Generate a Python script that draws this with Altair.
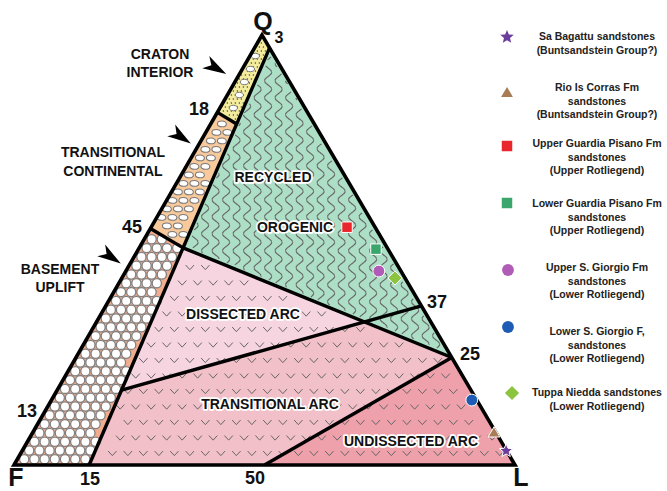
import math
import numpy as np
import pandas as pd
import altair as alt

W, H = 667, 491
FONT = "Liberation Sans"

# ---------------- sample compositions (Q, F, L in %) ----------------
sample_Q = [3.3, 7.7, 55.3, 50.2, 45.1, 15.1, 43.5]
sample_F = [0.1, 0.3, 5.6, 2.4, 4.4, 1.0, 2.0]
sample_L = [96.6, 92.0, 39.1, 47.4, 50.5, 83.9, 54.5]
sample_colors = ["#6a3d9a", "#a87c55", "#e8262b", "#3aa66b", "#b05cb6", "#1d5bb5", "#8cc43f"]
legend_text = [
    ["Sa Bagattu sandstones", "(Buntsandstein Group?)"],
    ["Rio Is Corras Fm", "sandstones", "(Buntsandstein Group?)"],
    ["Upper Guardia Pisano Fm", "sandstones", "(Upper Rotliegend)"],
    ["Lower Guardia Pisano Fm", "sandstones", "(Upper Rotliegend)"],
    ["Upper S. Giorgio Fm", "sandstones", "(Lower Rotliegend)"],
    ["Lower S. Giorgio F,", "sandstones", "(Lower Rotliegend)"],
    ["Tuppa Niedda sandstones", "(Lower Rotliegend)"],
]

# ---------------- provenance field boundaries (Q, F, L in %) ----------------
apex_Q, apex_F, apex_L = (100, 0, 0), (0, 100, 0), (0, 0, 100)
cont_top = (97, 0, 3)
cont_base = (0, 85, 15)
craton_edge = (82, 18, 0)
basement_edge = (55, 45, 0)
recycled_edge = (25, 0, 75)
dissected_edge = (37, 0, 63)
undissected_base = (0, 50, 50)
junction_Q = {"craton": 79.3, "basement": 50.5, "dissected": 17.4}

field_colors = {
    "craton": "#f3ec9c", "transcont": "#f7c99b", "basement": "#f2ac8e",
    "recycled": "#addec6", "dissected": "#f6d5e1", "transarc": "#f2c0c9", "undissected": "#eea0ab",
}

# ---------------- layout (pixels) ----------------
QX, QY = 262, 35
FX, FY = 14, 465
LX, LY = 515, 465


def proj(p):
    q, f, l = p
    s = q + f + l
    return ((q * QX + f * FX + l * LX) / s, (q * QY + f * FY + l * LY) / s)


def on_cont(qv):
    t = (cont_top[0] - qv) / (cont_top[0] - cont_base[0])
    return tuple(a + t * (b - a) for a, b in zip(cont_top, cont_base))


J18 = on_cont(junction_Q["craton"])
J45 = on_cont(junction_Q["basement"])
JD = on_cont(junction_Q["dissected"])

polys = {
    "transarc": [J45, cont_base, apex_L, recycled_edge],
    "dissected": [J45, JD, dissected_edge],
    "undissected": [undissected_base, apex_L, recycled_edge],
    "recycled": [cont_top, recycled_edge, J45],
    "craton": [apex_Q, cont_top, J18, craton_edge],
    "transcont": [craton_edge, J18, J45, basement_edge],
    "basement": [basement_edge, J45, cont_base, apex_F],
}
pxpolys = {k: [proj(p) for p in v] for k, v in polys.items()}


def pip(x, y, poly):
    ins = False
    n = len(poly)
    for i in range(n):
        x1, y1 = poly[i]
        x2, y2 = poly[(i + 1) % n]
        if (y1 > y) != (y2 > y):
            xi = x1 + (y - y1) * (x2 - x1) / (y2 - y1)
            if xi > x:
                ins = not ins
    return ins


def edist(x, y, poly):
    d = 1e9
    n = len(poly)
    for i in range(n):
        x1, y1 = poly[i]
        x2, y2 = poly[(i + 1) % n]
        dx, dy = x2 - x1, y2 - y1
        t = max(0, min(1, ((x - x1) * dx + (y - y1) * dy) / (dx * dx + dy * dy)))
        d = min(d, math.hypot(x - x1 - t * dx, y - y1 - t * dy))
    return d


def inside(x, y, poly, m):
    return pip(x, y, poly) and edist(x, y, poly) >= m


def bbox(poly):
    xs = [p[0] for p in poly]
    ys = [p[1] for p in poly]
    return min(xs), max(xs), min(ys), max(ys)


xs_ = alt.Scale(domain=[0, W], nice=False, zero=False)
ys_ = alt.Scale(domain=[0, H], nice=False, zero=False, reverse=True)


def XY():
    return dict(x=alt.X("x:Q", scale=xs_, axis=None), y=alt.Y("y:Q", scale=ys_, axis=None))


layers = []

# ---- filled fields ----
for key in ["transarc", "dissected", "undissected", "recycled", "craton", "transcont", "basement"]:
    pts = pxpolys[key]
    df = pd.DataFrame([{"x": x, "y": y, "o": i} for i, (x, y) in enumerate(pts + [pts[0]])])
    layers.append(alt.Chart(df).mark_line(fill=field_colors[key], strokeOpacity=0, strokeWidth=0)
                  .encode(order=alt.Order("o:Q"), **XY()))

# ---- textures ----
# volcanic "v" marks over arc fields
vrows = []
ap = pxpolys["transarc"]
x0, x1, y0, y1 = bbox(ap)
j = 0
for yy in np.arange(y0 + 4, y1, 15.5):
    off = 7.7 if j % 2 else 0
    for xx in np.arange(x0 + off, x1, 15.5):
        if inside(xx, yy, ap, 5):
            vrows.append({"x": xx, "y": yy})
    j += 1
VSHAPE = "M-1,-0.55 L0,0.55 L1,-0.55"
layers.append(alt.Chart(pd.DataFrame(vrows)).mark_point(shape=VSHAPE, size=70, filled=False,
                                                      color="#666666", strokeWidth=1.0, opacity=1)
              .encode(**XY()))

# wavy lines over recycled orogen
rp = pxpolys["recycled"]
x0, x1, y0, y1 = bbox(rp)
wrows = []
seg = 0
for k, xs0 in enumerate(np.arange(x0 - 20, x1 + 20, 10.5)):
    prev = False
    for yy in np.arange(y0, y1, 1.0):
        xx = xs0 + 3.6 * math.sin(2 * math.pi * yy / 17.0)
        ok = inside(xx, yy, rp, 2.5)
        if ok:
            if not prev:
                seg += 1
            wrows.append({"x": xx, "y": yy, "s": seg, "o": yy})
        prev = ok
layers.append(alt.Chart(pd.DataFrame(wrows)).mark_line(color="#666666", strokeWidth=1.2,
                                                     interpolate="monotone")
              .encode(detail="s:N", order=alt.Order("o:Q"), **XY()))

# craton interior stipple and grains
cp = pxpolys["craton"]
x0, x1, y0, y1 = bbox(cp)
drows, grows = [], []
j = 0
for yy in np.arange(y0, y1, 4.0):
    for xx in np.arange(x0 + (2 if j % 2 else 0), x1, 4.0):
        if inside(xx, yy, cp, 2):
            drows.append({"x": xx, "y": yy})
    j += 1
j = 0
for yy in np.arange(y0 + 8, y1, 13):
    for xx in np.arange(x0 + (5 if j % 2 else 0), x1, 11):
        if inside(xx, yy, cp, 4):
            grows.append({"x": xx, "y": yy})
    j += 1
layers.append(alt.Chart(pd.DataFrame(drows)).mark_circle(size=2.2, color="#444", opacity=1).encode(**XY()))
ELL = "M-1,0 A1,0.65 0 1,1 1,0 A1,0.65 0 1,1 -1,0 Z"
layers.append(alt.Chart(pd.DataFrame(grows)).mark_point(shape=ELL, size=70, filled=True, fill="white",
                                                       stroke="#777", strokeWidth=1, opacity=1)
              .encode(**XY()))

# transitional continental grains
tp = pxpolys["transcont"]
x0, x1, y0, y1 = bbox(tp)
trows = []
j = 0
for yy in np.arange(y0 + 3, y1, 8.5):
    for xx in np.arange(x0 + (5.5 if j % 2 else 0), x1, 11):
        if inside(xx, yy, tp, 3.5):
            trows.append({"x": xx, "y": yy})
    j += 1
layers.append(alt.Chart(pd.DataFrame(trows)).mark_point(shape=ELL, size=80, filled=True, fill="white",
                                                       stroke="#7a7a7a", strokeWidth=1.1, opacity=1)
              .encode(**XY()))

# basement uplift cells
bp = pxpolys["basement"]
x0, x1, y0, y1 = bbox(bp)
brows = []
j = 0
for yy in np.arange(y0 + 2, y1, 8.8):
    for xx in np.arange(x0 + (5 if j % 2 else 0), x1, 10.2):
        if inside(xx, yy, bp, 2.5):
            brows.append({"x": xx, "y": yy})
    j += 1
layers.append(alt.Chart(pd.DataFrame(brows)).mark_point(shape="circle", size=85, filled=True, fill="white",
                                                       stroke="#808080", strokeWidth=1.3, opacity=1)
              .encode(**XY()))

# ---- boundary lines ----
segs = [
    [cont_top, cont_base], [craton_edge, J18], [basement_edge, J45], [J45, recycled_edge],
    [JD, dissected_edge], [undissected_base, recycled_edge],
]
lrows = []
for si, sg in enumerate(segs):
    for oi, p in enumerate(sg):
        x, y = proj(p)
        lrows.append({"x": x, "y": y, "s": si, "o": oi})
layers.append(alt.Chart(pd.DataFrame(lrows)).mark_line(color="black", strokeWidth=3.4)
              .encode(detail="s:N", order=alt.Order("o:Q"), **XY()))
tri = [apex_Q, apex_F, apex_L, apex_Q, apex_F]
trirows = [{"x": proj(p)[0], "y": proj(p)[1], "o": i} for i, p in enumerate(tri)]
layers.append(alt.Chart(pd.DataFrame(trirows)).mark_line(color="black", strokeWidth=3.6, strokeJoin="miter")
              .encode(order=alt.Order("o:Q"), **XY()))

# ---- arrows ----
ARROW = "M1,0 L-1,-0.6 L-0.45,0 L-1,0.6 Z"
arrows = pd.DataFrame({"x": [216, 181, 111], "y": [68, 137, 257], "a": [30, 34, 34]})
layers.append(alt.Chart(arrows).mark_point(shape=ARROW, size=560, filled=True, color="black", opacity=1)
              .encode(angle=alt.Angle("a:Q", scale=None), **XY()))

# ---- region labels (with white halo) ----
reg = pd.DataFrame({
    "t": ["RECYCLED", "OROGENIC", "DISSECTED ARC", "TRANSITIONAL ARC", "UNDISSECTED ARC"],
    "x": [273, 295, 243, 270, 411], "y": [178, 228, 315, 405, 442]})
layers.append(alt.Chart(reg).mark_text(font=FONT, fontSize=14, fontWeight="bold", stroke="white",
                                       strokeWidth=3.5, strokeJoin="round", color="white")
              .encode(text="t:N", **XY()))
layers.append(alt.Chart(reg).mark_text(font=FONT, fontSize=14, fontWeight="bold", color="#111")
              .encode(text="t:N", **XY()))

# ---- outside field labels ----
out = pd.DataFrame({
    "t": ["CRATON", "INTERIOR", "TRANSITIONAL", "CONTINENTAL", "BASEMENT", "UPLIFT"],
    "x": [160, 160, 113, 113, 60, 60], "y": [55, 73, 153, 172, 270, 288]})
layers.append(alt.Chart(out).mark_text(font=FONT, fontSize=14, fontWeight="bold", color="#111")
              .encode(text="t:N", **XY()))

# ---- tick / apex labels ----
ticks = pd.DataFrame({
    "t": ["18", "45", "13", "15", "50", "37", "25"],
    "x": [199, 132, 27, 90, 255, 437, 470], "y": [110, 228, 412, 480, 479, 303, 355]})
layers.append(alt.Chart(ticks).mark_text(font=FONT, fontSize=18, fontWeight="bold", color="#111")
              .encode(text="t:N", **XY()))
apexes = pd.DataFrame({"t": ["Q", "F", "L"], "x": [263, 16, 521], "y": [22, 478, 478]})
layers.append(alt.Chart(apexes).mark_text(font=FONT, fontSize=25, fontWeight="bold", color="#111")
              .encode(text="t:N", **XY()))
layers.append(alt.Chart(pd.DataFrame({"t": ["3"], "x": [279], "y": [38]}))
              .mark_text(font=FONT, fontSize=16, fontWeight="bold", color="#111")
              .encode(text="t:N", **XY()))

# ---- samples and legend ----
pts = [(q, f, l) for q, f, l in zip(sample_Q, sample_F, sample_L)]
STAR = "M" + " L".join(
    f"{(1 if i % 2 == 0 else 0.45) * math.cos(-math.pi / 2 + i * math.pi / 5):.3f},"
    f"{(1 if i % 2 == 0 else 0.45) * math.sin(-math.pi / 2 + i * math.pi / 5):.3f}"
    for i in range(10)) + " Z"
shapes = [STAR, "triangle-up", "square", "square", "circle", "circle", "diamond"]
sizes = [200, 140, 110, 110, 140, 140, 200]
leg_mark_x = [507, 507, 507, 507, 508, 508, 512]
leg_mark_y = [37, 92, 146, 203, 270, 327, 393]
leg_text_y = [37, 88, 144, 204, 268, 332, 393]

srows, mrows, txrows = [], [], []
for i, p in enumerate(pts):
    x, y = proj(p)
    srows.append({"x": x, "y": y, "shape": shapes[i], "size": sizes[i], "c": sample_colors[i]})
    mrows.append({"x": leg_mark_x[i], "y": leg_mark_y[i], "shape": shapes[i], "size": sizes[i],
                  "c": sample_colors[i]})
    for k, line in enumerate(legend_text[i]):
        txrows.append({"x": 597, "y": leg_text_y[i] + 13.5 * k, "t": line})

for rows, sw in [(srows, 1.0), (mrows, 0.0)]:
    layers.append(alt.Chart(pd.DataFrame(rows)).mark_point(filled=True, opacity=1, stroke="white",
                                                         strokeWidth=sw)
                  .encode(shape=alt.Shape("shape:N", scale=None), size=alt.Size("size:Q", scale=None),
                          fill=alt.Fill("c:N", scale=None), **XY()))
layers.append(alt.Chart(pd.DataFrame(txrows)).mark_text(font=FONT, fontSize=10.5, fontWeight="bold",
                                                       color="#222")
              .encode(text="t:N", **XY()))

chart = alt.layer(*layers).properties(width=W, height=H, padding=0, autosize="none",
                                      background="white").configure_view(stroke=None)
chart.save("out.html", embed_options={"renderer": "svg", "actions": False})
